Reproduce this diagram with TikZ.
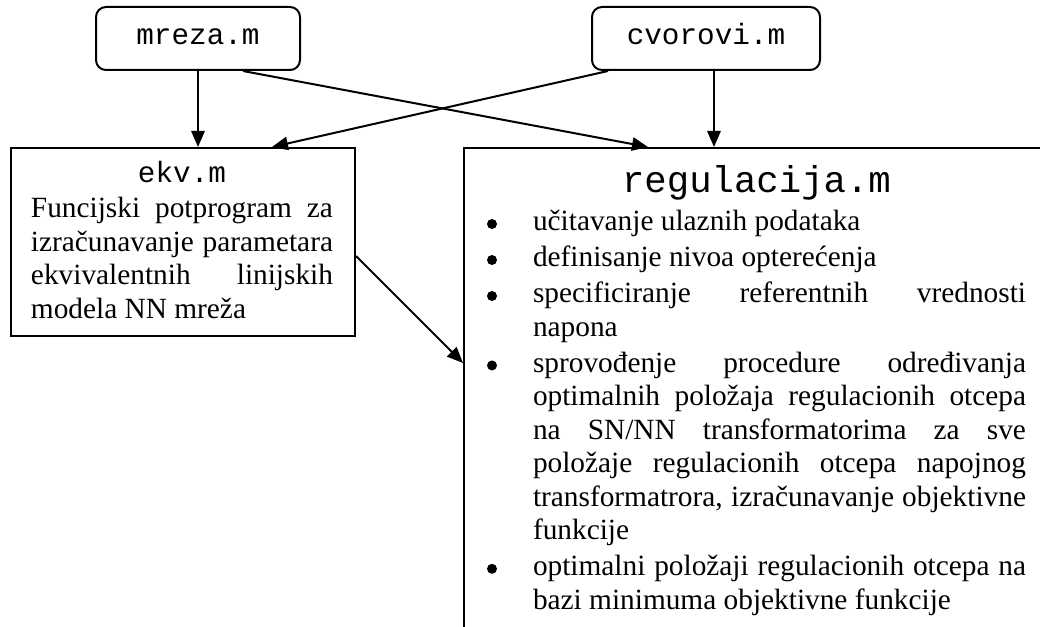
\documentclass[tikz,border=0pt]{standalone}
\usepackage{fontspec}
\setmainfont{Liberation Serif}
\newfontfamily\cour{Liberation Mono}
\usetikzlibrary{arrows.meta}
\newcommand{\itm}[1]{\par\noindent\hangindent=34.5pt\hangafter=1\makebox[34.5pt][l]{\tikz[baseline=0pt]\fill (3.75pt,5.25pt) circle[radius=3.75pt];}#1}
\begin{document}
\begin{tikzpicture}[x=0.75pt,y=-0.75pt,
  box/.style={draw,line width=1.5pt,rectangle,inner sep=0pt},
  file/.style={box,rounded corners=7.5pt,font=\cour\fontsize{22pt}{26pt}\selectfont,text height=9pt,text depth=0pt},
  arr/.style={line width=1.5pt,-{Triangle[length=12pt,width=10pt]}},
  txt/.style={inner sep=0pt,anchor=base}]
\useasboundingbox (0,0) rectangle (1040,627);
\fill[white] (0,0) rectangle (1040,627);
\clip (0,0) rectangle (1040,627);
\node[file,minimum width=153pt,minimum height=47.25pt] (mreza) at (198,38.5) {mreza.m};
\node[file,minimum width=171pt,minimum height=47.25pt] (cvorovi) at (706,38.5) {cvorovi.m};
\node[box,anchor=north west,minimum width=258pt,minimum height=141pt] (ekv) at (10,147) {};
\node[box,anchor=north west,minimum width=450pt,minimum height=400pt] (reg) at (463,147) {};
\node[txt] (ekvtxt) at (182,183) {\begin{minipage}[t]{226.5pt}
{\centering\cour\fontsize{22pt}{26pt}\selectfont ekv.m\par}
\vspace{1.1pt}
\fontsize{22pt}{25.1pt}\selectfont\tolerance=10000\hyphenpenalty=10000\parindent=0pt
Funcijski potprogram za\linebreak izračunavanje parametara\linebreak ekvivalentnih linijskih\linebreak modela NN mreža\par
\end{minipage}};
\node[txt] (regtxt) at (756.5,193) {\begin{minipage}[t]{404.25pt}
{\centering\cour\fontsize{28pt}{32pt}\selectfont regulacija.m\par}
\fontsize{22pt}{25.1pt}\selectfont\tolerance=10000\hyphenpenalty=10000\parskip=1.9pt
\vspace{1.5pt}
\itm{učitavanje ulaznih podataka}
\itm{definisanje nivoa opterećenja}
\itm{specificiranje referentnih vrednosti\linebreak napona}
\itm{sprovođenje procedure određivanja\linebreak optimalnih položaja regulacionih otcepa\linebreak na SN/NN transformatorima za sve\linebreak položaje regulacionih otcepa napojnog\linebreak transformatrora, izračunavanje objektivne\linebreak funkcije}
\itm{optimalni položaji regulacionih otcepa na\linebreak bazi minimuma objektivne funkcije}
\par
\end{minipage}};
\draw[arr] (mreza.south) -- (mreza.south |- ekv.north);
\draw[arr] ([xshift=6pt]cvorovi.south) -- ([xshift=188.25pt]reg.north west);
\draw[arr] ([xshift=33.75pt]mreza.south) -- ([xshift=138.75pt]reg.north west);
\draw[arr] ([xshift=-73.5pt]cvorovi.south) -- ([xshift=196.5pt]ekv.north west);
\draw[arr] ([yshift=-10.5pt]ekv.east) -- ([yshift=-162pt]reg.north west);
\end{tikzpicture}
\end{document}
